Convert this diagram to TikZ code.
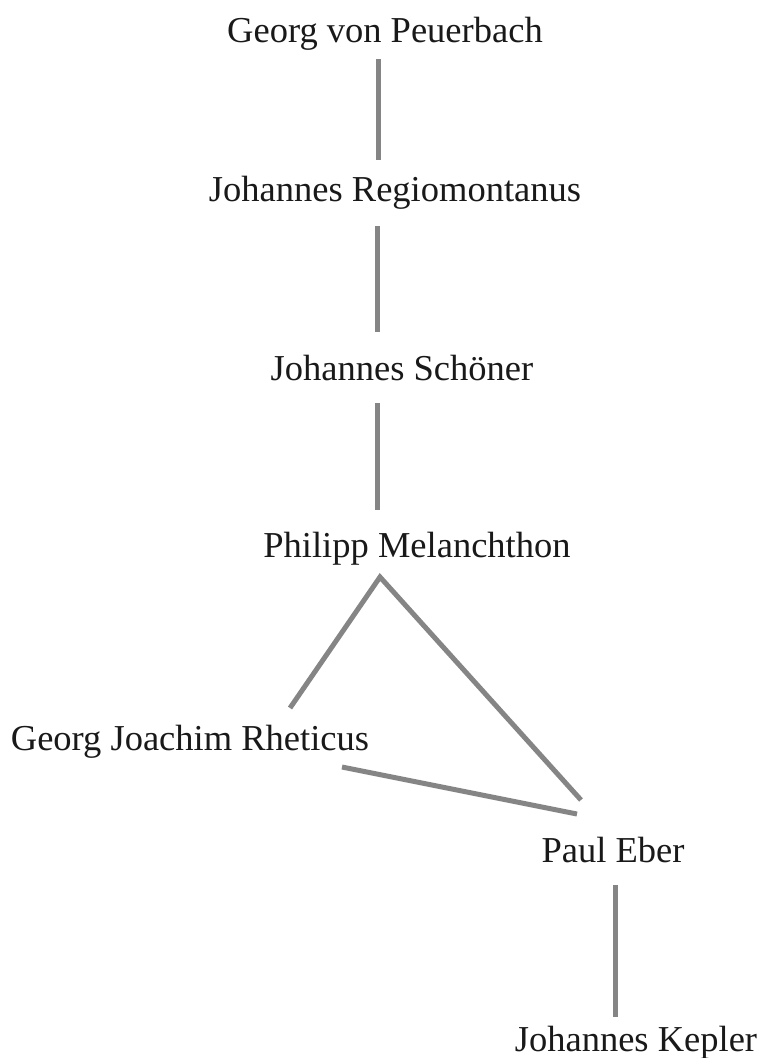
\documentclass[tikz,border=0pt]{standalone}
\usepackage{fontspec}
\newfontfamily\personfont{Liberation Serif}
\begin{document}
\begin{tikzpicture}[x=1pt,y=-1pt,
  person/.style={anchor=base,inner sep=0pt,text=black!90,font=\personfont\fontsize{36.5}{40}\selectfont},
  link/.style={draw=black!48,line width=5pt}]
\useasboundingbox (0,0) rectangle (762,1058);
\node[person] (peuer) at (385,42) {Georg von Peuerbach};
\node[person] (regio) at (395,201) {Johannes Regiomontanus};
\node[person] (schoener) at (402,380) {Johannes Schöner};
\node[person] (melan) at (417,557) {Philipp Melanchthon};
\node[person] (rhet) at (190,750) {Georg Joachim Rheticus};
\node[person] (eber) at (613,862) {Paul Eber};
\node[person] (kepler) at (636,1051) {Johannes Kepler};
\coordinate (a1) at (378,59);  \coordinate (a2) at (378,160);
\coordinate (b1) at (377,226); \coordinate (b2) at (377,332);
\coordinate (c1) at (377,403); \coordinate (c2) at (377,510);
\coordinate (apex) at (380,577);
\coordinate (d2) at (290,708);
\coordinate (e2) at (581,800);
\coordinate (f1) at (342,767); \coordinate (f2) at (577,814);
\coordinate (g1) at (615,885); \coordinate (g2) at (615,1017);
\draw[link] (a1) -- (a2);
\draw[link] (b1) -- (b2);
\draw[link] (c1) -- (c2);
\draw[link] (d2) -- (apex) -- (e2);
\draw[link] (f1) -- (f2);
\draw[link] (g1) -- (g2);
\end{tikzpicture}
\end{document}
